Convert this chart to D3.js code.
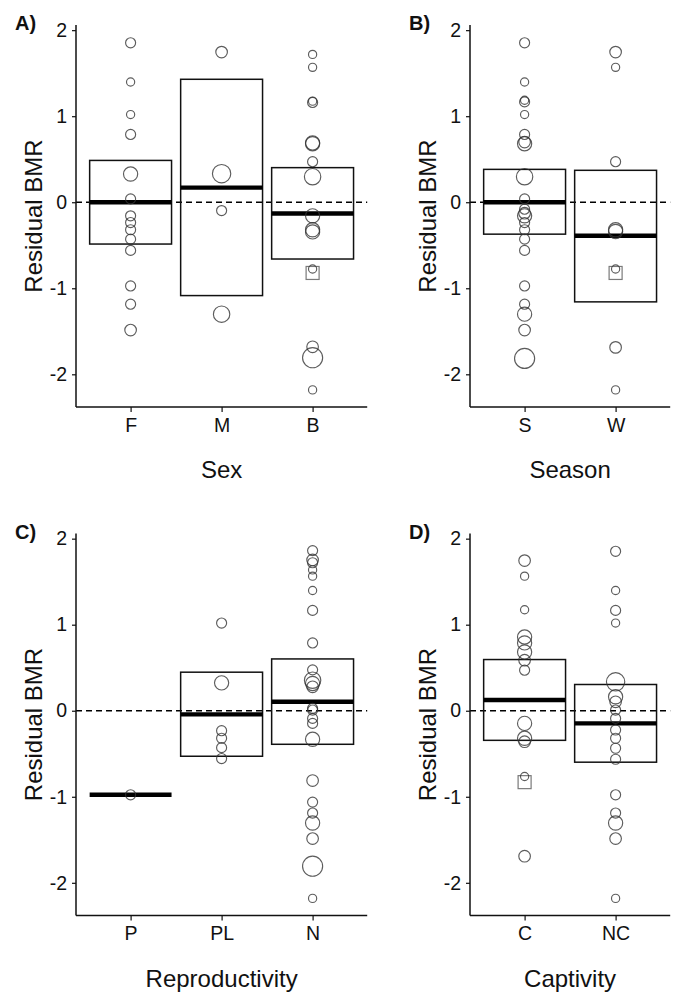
<!DOCTYPE html>
<html>
<head>
<meta charset="utf-8">
<script src="https://cdn.jsdelivr.net/npm/d3@7"></script>
<style>
  html, body { margin: 0; padding: 0; background: #fff; }
  svg { display: block; font-family: "Liberation Sans", Arial, sans-serif; }
</style>
</head>
<body>
<svg id="chart" width="673" height="992"></svg>
<script>
// ---------------- DATA ----------------
const yTicks = [-2, -1, 0, 1, 2];

// Panel A: Sex
const sexCats = ["F", "M", "B"];
const sexF  = [1.853, 1.398, 1.019, 0.788, 0.328, 0.039, -0.158, -0.236, -0.320, -0.429, -0.560, -0.973, -1.185, -1.486];
const sexFw = [3, 2, 2, 3, 6, 3, 3, 3, 3, 3, 3, 3, 3, 4];
const sexM  = [1.745, 0.332, -0.097, -1.301];
const sexMw = [4, 10, 3, 8];
const sexB  = [1.718, 1.568, 1.175, 1.160, 0.690, 0.680, 0.471, 0.297, -0.158, -0.320, -0.345, -0.776, -1.680, -1.807, -2.181];
const sexBw = [2, 2, 2, 3, 6, 6, 3, 8, 6, 6, 6, 2, 4, 12, 2];
const sexSquares = [{cat: "B", v: -0.822}];
const sexBoxes = [
  {cat: "F", lo: -0.486, mid: 0.000, hi: 0.486},
  {cat: "M", lo: -1.085, mid: 0.170, hi: 1.429},
  {cat: "B", lo: -0.660, mid: -0.131, hi: 0.402}
];

// Panel B: Season
const seasonCats = ["S", "W"];
const seasonS  = [1.853, 1.398, 1.185, 1.166, 1.019, 0.788, 0.700, 0.680, 0.297, 0.039, -0.081, -0.127, -0.158, -0.236, -0.320, -0.429, -0.560, -0.973, -1.185, -1.301, -1.486, -1.815];
const seasonSw = [3, 2, 2, 3, 2, 3, 4, 6, 8, 3, 3, 4, 6, 3, 3, 3, 3, 3, 3, 6, 4, 12];
const seasonW  = [1.745, 1.568, 0.471, -0.320, -0.340, -0.776, -1.687, -2.181];
const seasonWw = [4, 2, 3, 6, 6, 2, 4, 2];
const seasonSquares = [{cat: "W", v: -0.822}];
const seasonBoxes = [
  {cat: "S", lo: -0.371, mid: 0.000, hi: 0.382},
  {cat: "W", lo: -1.158, mid: -0.390, hi: 0.371}
];

// Panel C: Reproductivity
const reproCats = ["P", "PL", "N"];
const reproP   = [-0.977];
const reproPw  = [3];
const reproPL  = [1.019, 0.324, -0.232, -0.320, -0.429, -0.556];
const reproPLw = [3, 6, 3, 3, 3, 3];
const reproN   = [1.861, 1.753, 1.720, 1.637, 1.564, 1.398, 1.166, 0.788, 0.475, 0.355, 0.317, 0.278, 0.027, 0.008, -0.089, -0.147, -0.332, -0.811, -1.062, -1.189, -1.305, -1.486, -1.807, -2.181];
const reproNw  = [3, 4, 3, 2, 2, 2, 3, 3, 3, 8, 6, 4, 3, 3, 3, 3, 6, 4, 3, 3, 6, 4, 12, 2];
const reproSquares = [];
const reproBoxes = [
  {cat: "P",  lo: null,   mid: -0.977, hi: null},
  {cat: "PL", lo: -0.529, mid: -0.042, hi: 0.448},
  {cat: "N",  lo: -0.390, mid: 0.104,  hi: 0.602}
];

// Panel D: Captivity
const captCats = ["C", "NC"];
const captC   = [1.745, 1.564, 1.174, 0.857, 0.788, 0.683, 0.587, 0.471, -0.147, -0.320, -0.360, -0.764, -1.691];
const captCw  = [4, 2, 2, 6, 6, 6, 4, 3, 6, 6, 4, 2, 4];
const captNC  = [1.853, 1.398, 1.166, 1.019, 0.336, 0.162, 0.104, 0.008, -0.089, -0.224, -0.320, -0.436, -0.564, -0.977, -1.189, -1.305, -1.486, -2.181];
const captNCw = [3, 2, 3, 2, 10, 6, 4, 3, 3, 3, 3, 3, 3, 3, 3, 6, 4, 2];
const captSquares = [{cat: "C", v: -0.830}];
const captBoxes = [
  {cat: "C",  lo: -0.344, mid: 0.124,  hi: 0.595},
  {cat: "NC", lo: -0.598, mid: -0.147, hi: 0.305}
];

function pts(cat, vals, ws) { return vals.map((v, i) => ({cat, v, w: ws[i]})); }

const panels = [
  {label: "A)", title: "Sex", cats: sexCats, x0: 76, y0: 25,
   points: [...pts("F", sexF, sexFw), ...pts("M", sexM, sexMw), ...pts("B", sexB, sexBw)],
   squares: sexSquares, boxes: sexBoxes},
  {label: "B)", title: "Season", cats: seasonCats, x0: 470, y0: 25,
   points: [...pts("S", seasonS, seasonSw), ...pts("W", seasonW, seasonWw)],
   squares: seasonSquares, boxes: seasonBoxes},
  {label: "C)", title: "Reproductivity", cats: reproCats, x0: 76, y0: 533.5,
   points: [...pts("P", reproP, reproPw), ...pts("PL", reproPL, reproPLw), ...pts("N", reproN, reproNw)],
   squares: reproSquares, boxes: reproBoxes},
  {label: "D)", title: "Captivity", cats: captCats, x0: 470, y0: 533.5,
   points: [...pts("C", captC, captCw), ...pts("NC", captNC, captNCw)],
   squares: captSquares, boxes: captBoxes}
];

// ---------------- DRAW ----------------
const svg = d3.select("#chart");
const unitX = 91.0;       // px per category step
const plotH = 382;        // px height of plotting area
const yDomain = [-2.38, 2.06];
const boxW = 0.9;
const rScale = d3.scaleSqrt().domain([0, 2]).range([0, 4.1]);

panels.forEach(p => {
  const n = p.cats.length;
  const plotW = (n - 1 + 1.2) * unitX;
  const xLin = d3.scaleLinear().domain([0.4, n + 0.6]).range([0, plotW]);
  const xPos = c => xLin(p.cats.indexOf(c) + 1);
  const y = d3.scaleLinear().domain(yDomain).range([plotH, 0]);

  const g = svg.append("g").attr("transform", `translate(${p.x0},${p.y0})`);

  // zero dashed line
  g.append("line")
    .attr("x1", 0).attr("x2", plotW)
    .attr("y1", y(0)).attr("y2", y(0))
    .attr("stroke", "#000").attr("stroke-width", 1.5)
    .attr("stroke-dasharray", "6,4");

  // boxes
  p.boxes.forEach(b => {
    const xc = p.cats.indexOf(b.cat) + 1;
    const xl = xLin(xc - boxW / 2), xr = xLin(xc + boxW / 2);
    if (b.lo !== null) {
      g.append("rect")
        .attr("x", xl).attr("y", y(b.hi))
        .attr("width", xr - xl).attr("height", y(b.lo) - y(b.hi))
        .attr("fill", "none").attr("stroke", "#111").attr("stroke-width", 1.5);
    }
    g.append("line")
      .attr("x1", xl).attr("x2", xr)
      .attr("y1", y(b.mid)).attr("y2", y(b.mid))
      .attr("stroke", "#000").attr("stroke-width", 4.4);
  });

  // squares
  g.selectAll("rect.sq").data(p.squares).enter().append("rect")
    .attr("class", "sq")
    .attr("x", d => xPos(d.cat) - 6.5).attr("y", d => y(d.v) - 6.5)
    .attr("width", 13).attr("height", 13)
    .attr("fill", "none").attr("stroke", "#7a7a7a").attr("stroke-width", 1.2);

  // points
  g.selectAll("circle.pt").data(p.points).enter().append("circle")
    .attr("class", "pt")
    .attr("cx", d => xPos(d.cat)).attr("cy", d => y(d.v))
    .attr("r", d => rScale(d.w))
    .attr("fill", "none").attr("stroke", "#333").attr("stroke-opacity", 0.8)
    .attr("stroke-width", 1.15);

  // axes
  const yAxis = d3.axisLeft(y).tickValues(yTicks).tickFormat(d => String(d))
    .tickSize(4).tickPadding(5);
  const ya = g.append("g").call(yAxis);
  ya.select(".domain").attr("d", `M0,0V${plotH}`).attr("stroke", "#111").attr("stroke-width", 1.5);
  ya.selectAll(".tick line").attr("stroke", "#111").attr("stroke-width", 1.2);
  ya.selectAll(".tick text").attr("font-size", 19.5).attr("fill", "#111")
    .attr("font-family", "Liberation Sans, Arial, sans-serif");

  const xAxis = d3.axisBottom(xLin).tickValues(d3.range(1, n + 1))
    .tickFormat(i => p.cats[i - 1]).tickSize(5).tickPadding(6);
  const xa = g.append("g").attr("transform", `translate(0,${plotH})`).call(xAxis);
  xa.select(".domain").attr("d", `M0,0H${plotW}`).attr("stroke", "#111").attr("stroke-width", 1.5);
  xa.selectAll(".tick line").attr("stroke", "#111").attr("stroke-width", 1.2);
  xa.selectAll(".tick text").attr("font-size", 19.5).attr("fill", "#111")
    .attr("font-family", "Liberation Sans, Arial, sans-serif");

  // y title
  g.append("text")
    .attr("transform", `translate(-34,${plotH / 2}) rotate(-90)`)
    .attr("text-anchor", "middle")
    .attr("font-size", 24).attr("fill", "#111")
    .text("Residual BMR");

  // x title
  g.append("text")
    .attr("x", plotW / 2).attr("y", plotH + 71)
    .attr("text-anchor", "middle")
    .attr("font-size", 24).attr("fill", "#111")
    .text(p.title);

  // panel label
  g.append("text")
    .attr("x", -61).attr("y", 5)
    .attr("font-size", 20).attr("font-weight", "bold").attr("fill", "#111")
    .text(p.label);
});
</script>
</body>
</html>
